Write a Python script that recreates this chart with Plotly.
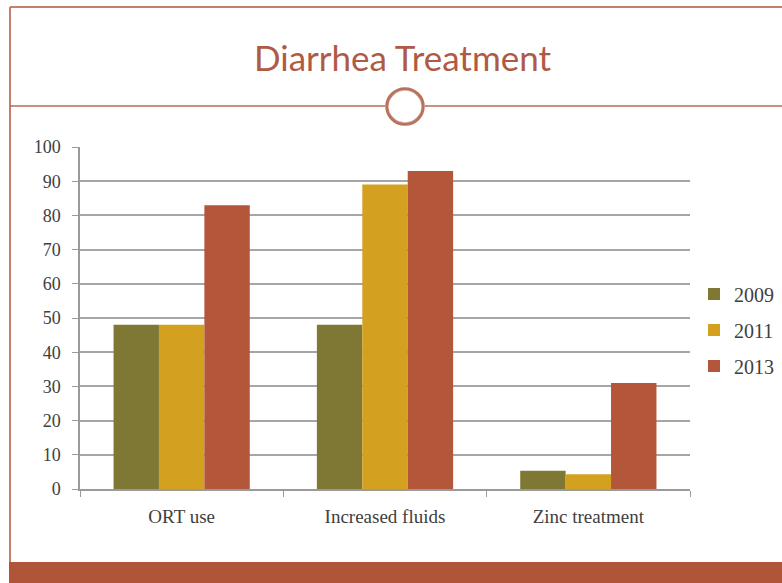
import plotly.graph_objects as go

categories = ["ORT use", "Increased fluids", "Zinc treatment"]
years = ["2009", "2011", "2013"]
values_2009 = [48, 48, 5.3]
values_2011 = [48, 89, 4.3]
values_2013 = [83, 93, 31]
colors = ["#7f7835", "#d4a020", "#b35639"]

W, H = 782, 583
L, R, T, B = 80, 690, 147, 489

def px(x):
    return (x - L) / (R - L)

def py(y):
    return (B - y) / (B - T)

fig = go.Figure()
for name, vals, c in zip(years, [values_2009, values_2011, values_2013], colors):
    fig.add_trace(go.Bar(x=categories, y=vals, name=name, marker_color=c,
                         marker_line_width=0, legendgroup=name))

frame = "#c47e6a"
shapes = [
    dict(type="line", xref="paper", yref="paper", x0=px(10), x1=px(790), y0=py(7), y1=py(7),
         line=dict(color=frame, width=2)),
    dict(type="line", xref="paper", yref="paper", x0=px(10), x1=px(10), y0=py(7), y1=py(562),
         line=dict(color=frame, width=2)),
    dict(type="line", xref="paper", yref="paper", x0=px(10), x1=px(385), y0=py(106), y1=py(106),
         line=dict(color="#b86a55", width=1.5)),
    dict(type="line", xref="paper", yref="paper", x0=px(425), x1=px(790), y0=py(106), y1=py(106),
         line=dict(color="#b86a55", width=1.5)),
    dict(type="circle", xref="paper", yref="paper", x0=px(387), x1=px(423), y0=py(89), y1=py(124),
         line=dict(color="#b8735e", width=3.5), fillcolor="white"),
    dict(type="circle", xref="paper", yref="paper", x0=px(388.5), x1=px(421.5), y0=py(90.5), y1=py(122.5),
         line=dict(color="rgba(255,255,255,0.6)", width=0.8), fillcolor="rgba(0,0,0,0)"),
    dict(type="rect", xref="paper", yref="paper", x0=px(9), x1=px(795), y0=py(562), y1=py(595),
         line=dict(width=0), fillcolor="#b05538", layer="below"),
]

fig.update_layout(
    width=W, height=H,
    margin=dict(l=L, r=W - R, t=T, b=H - B, pad=0, autoexpand=False),
    paper_bgcolor="white", plot_bgcolor="white",
    barmode="group", bargap=0.33, bargroupgap=0,
    font=dict(family="Liberation Serif", size=18, color="#404040"),
    shapes=shapes,
    annotations=[dict(text="Diarrhea Treatment", xref="paper", yref="paper",
                      x=px(402), y=py(57), xanchor="center", yanchor="middle",
                      showarrow=False,
                      font=dict(family="Lato", size=35, color="#b05a45"))],
    legend=dict(xref="container", yref="container", x=694 / W, y=(H - 330) / H,
                xanchor="left", yanchor="middle",
                font=dict(family="Liberation Serif", size=20, color="#404040"),
                itemwidth=30, tracegroupgap=7, bgcolor="rgba(0,0,0,0)"),
    showlegend=True,
)
fig.update_xaxes(showline=True, linecolor="#9a9a9a", linewidth=1.5,
                 ticks="outside", tickson="boundaries", ticklen=6, tickcolor="#9a9a9a",
                 tickfont=dict(family="Liberation Serif", size=19, color="#404040"),
                 ticklabelstandoff=9, showgrid=False, automargin=False)
fig.update_yaxes(range=[0, 100], dtick=10, showline=True, linecolor="#9a9a9a", linewidth=1.5,
                 ticks="outside", ticklen=6, tickcolor="#9a9a9a",
                 showgrid=True, gridcolor="#a6a6a6", gridwidth=1.5,
                 tickfont=dict(family="Liberation Serif", size=18, color="#404040"),
                 ticklabelstandoff=8, zeroline=False, automargin=False)

fig.write_html("out.html", config={"displayModeBar": False},
               post_script="document.body.style.margin='0';")
